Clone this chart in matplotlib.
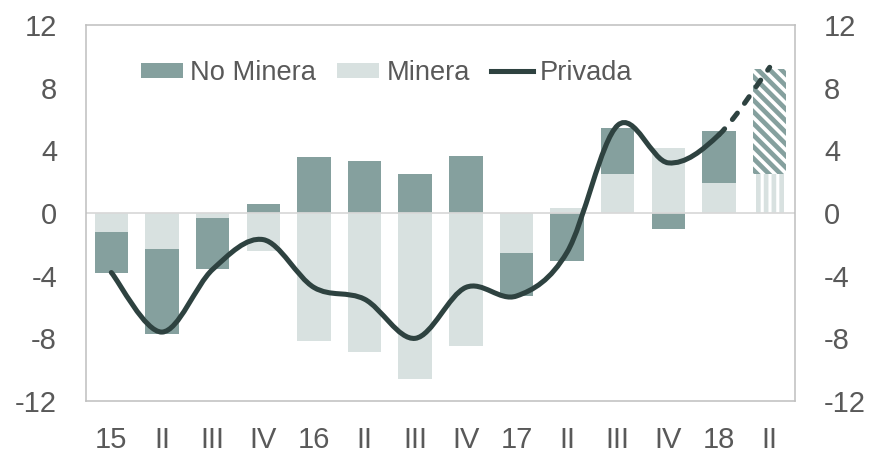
import matplotlib
matplotlib.use('Agg')
import matplotlib.pyplot as plt
from matplotlib.path import Path
from matplotlib.patches import PathPatch, Patch
from matplotlib.lines import Line2D
import numpy as np

# quarters
labels = ['15', 'II', 'III', 'IV', '16', 'II', 'III', 'IV', '17', 'II', 'III', 'IV', '18', 'II']
minera = [-1.2, -2.3, -0.3, -2.4, -8.2, -8.9, -10.6, -8.5, -2.55, 0.35, 2.5, 4.15, 1.9, 2.5]
no_minera = [-2.6, -5.45, -3.25, 0.6, 3.55, 3.3, 2.5, 3.65, -2.75, -3.05, 2.95, -1.0, 3.35, 6.7]
privada = [-3.8, -7.6, -3.6, -1.7, -4.75, -5.5, -8.0, -4.75, -5.3, -2.5, 5.6, 3.2, 5.0, 9.3]
n_proj = 1  # last quarter is a projection

DARK = '#85A09E'
LIGHT = '#D8E1E0'
LINE = '#2E4240'
TXT = '#595959'
GRID = '#BFBFBF'

DPI = 140
plt.rcParams['font.family'] = ['Liberation Sans', 'DejaVu Sans']
plt.rcParams['axes.unicode_minus'] = False
plt.rcParams['hatch.linewidth'] = 2.4

BS = chr(92)  # backslash for the hatch


def smooth_path(xs, ys):
    # excel-like smoothed line, cubic bezier segments
    pts = np.column_stack([xs, ys]).astype(float)
    n = len(pts)
    verts = [pts[0]]
    codes = [Path.MOVETO]
    for i in range(n - 1):
        p0 = pts[max(i - 1, 0)]
        p1 = pts[i]
        p2 = pts[i + 1]
        p3 = pts[min(i + 2, n - 1)]
        c1 = p1 + (p2 - p0) / 6.0
        c2 = p2 - (p3 - p1) / 6.0
        verts += [c1, c2, p2]
        codes += [Path.CURVE4] * 3
    return verts, codes


fig = plt.figure(figsize=(871 / DPI, 453 / DPI), dpi=DPI)
ax = fig.add_axes([86 / 871, 52 / 453, 709 / 871, 376 / 453])

x = np.arange(len(labels))
m = np.array(minera)
nm = np.array(no_minera)
bottom_nm = np.where(np.sign(m) == np.sign(nm), m, 0)
w = 0.66
k = len(labels) - n_proj

ax.bar(x[:k], m[:k], width=w, color=LIGHT, zorder=2)
ax.bar(x[:k], nm[:k], bottom=bottom_nm[:k], width=w, color=DARK, zorder=2)

# projected quarter, hatched
ax.bar(x[k:], m[k:], width=w, facecolor='white', edgecolor=LIGHT, hatch='|||', linewidth=0, zorder=2)
ax.bar(x[k:], nm[k:], bottom=bottom_nm[k:], width=w, facecolor='white', edgecolor=DARK,
       hatch=BS * 4, linewidth=0, zorder=2)

ax.axhline(0, color='#D9D9D9', lw=0.9, zorder=2.5)

# privada line: solid then dashed for the projection
lw = 2.6
v, c = smooth_path(x, privada)
cut = 3 * (k - 1) + 1
solid = PathPatch(Path(v[:cut], c[:cut]), fill=False, edgecolor=LINE, lw=lw,
                  capstyle='round', zorder=3)
ax.add_patch(solid)
proj = PathPatch(Path(v[cut - 1:], [Path.MOVETO] + c[cut:]), fill=False,
                 edgecolor=LINE, lw=lw, linestyle=(0, (1.6, 2.4)), capstyle='round', zorder=3)
ax.add_patch(proj)

ax.set_xlim(-0.5, len(labels) - 0.5)
ax.set_ylim(-12, 12)
ax.set_yticks(np.arange(-12, 13, 4))
ax.set_xticks(x)
ax.set_xticklabels(labels)

for s in ax.spines.values():
    s.set_color(GRID)
    s.set_linewidth(0.8)

ax.tick_params(axis='y', left=False, right=False, labelleft=True, labelright=True,
               length=0, labelsize=15, colors=TXT, pad=14.9)
ax.tick_params(axis='x', bottom=False, length=0, labelsize=15, colors=TXT, pad=12.9)

handles = [Patch(facecolor=DARK), Patch(facecolor=LIGHT), Line2D([], [], color=LINE, lw=lw)]
leg = ax.legend(handles, ['No Minera', 'Minera', 'Privada'], ncol=3, loc='center',
                bbox_to_anchor=(0.424, 0.872), frameon=False, fontsize=14,
                handlelength=1.55, handleheight=0.48, handletextpad=0.26,
                columnspacing=0.77, borderaxespad=0)
for t in leg.get_texts():
    t.set_color(TXT)

fig.savefig('out.png', dpi=DPI)
